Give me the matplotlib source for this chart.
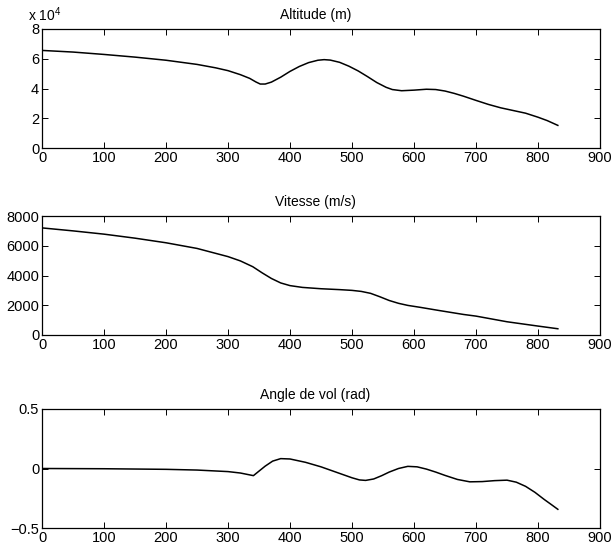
#!/usr/bin/env python3
"""Trajectoire de rentree : altitude, vitesse et angle de vol."""

import matplotlib
matplotlib.use('Agg')
import matplotlib.pyplot as plt

plt.rcParams['font.family'] = ['Liberation Sans', 'DejaVu Sans']
plt.rcParams['mathtext.fontset'] = 'custom'
plt.rcParams['mathtext.rm'] = 'Liberation Sans'
plt.rcParams['font.size'] = 10.5

# temps (s) et altitude (m)
t_alt = [0, 50, 100, 150, 200, 250, 280, 300, 320, 335, 345, 352, 360, 370,
         385, 400, 415, 430, 445, 455, 465, 480, 495, 510, 525, 540, 555,
         565, 580, 600, 620, 635, 650, 665, 680, 700, 720, 740, 760, 780,
         800, 815, 832]
altitude = [65600, 64500, 62900, 61100, 59000, 56200, 53900, 52000, 49300,
            46800, 44400, 43000, 43000, 44300, 47600, 51500, 54800, 57400,
            59000, 59400, 59100, 57600, 55000, 51800, 48000, 44000, 40800,
            39300, 38500, 38900, 39500, 39300, 38300, 36700, 34800, 32000,
            29300, 27000, 25200, 23400, 20700, 18400, 15200]

# temps (s) et vitesse (m/s)
t_vit = [0, 50, 100, 150, 200, 250, 300, 320, 340, 355, 370, 385, 400, 420,
         450, 480, 500, 515, 530, 545, 560, 575, 590, 610, 640, 680, 700,
         750, 800, 832]
vitesse = [7200, 7000, 6780, 6510, 6200, 5820, 5270, 4980, 4590, 4180,
           3800, 3500, 3320, 3200, 3110, 3050, 3000, 2930, 2800, 2570,
           2320, 2130, 1990, 1860, 1650, 1380, 1270, 890, 600, 420]

# temps (s) et angle de vol (rad)
t_ang = [0, 100, 200, 250, 300, 320, 341, 350, 360, 372, 385, 400, 425,
         450, 475, 500, 512, 522, 535, 548, 560, 575, 590, 605, 620, 635,
         650, 670, 690, 710, 730, 750, 765, 780, 795, 810, 822, 832]
angle = [0.0, -0.002, -0.007, -0.013, -0.026, -0.038, -0.060, -0.022,
         0.020, 0.062, 0.083, 0.080, 0.052, 0.014, -0.032, -0.078, -0.096,
         -0.100, -0.088, -0.060, -0.030, 0.000, 0.018, 0.014, -0.005,
         -0.030, -0.058, -0.092, -0.112, -0.110, -0.102, -0.098, -0.115,
         -0.150, -0.200, -0.260, -0.305, -0.343]

W, H = 612, 548
left, width, height = 42 / W, 558 / W, 119 / H
panels = [
    (t_alt, [a / 1e4 for a in altitude], 'Altitude (m)', (0, 8),
     [0, 2, 4, 6, 8], ['0', '2', '4', '6', '8'], 29),
    (t_vit, vitesse, 'Vitesse (m/s)', (0, 8000),
     [0, 2000, 4000, 6000, 8000], ['0', '2000', '4000', '6000', '8000'], 216),
    (t_ang, angle, 'Angle de vol (rad)', (-0.5, 0.5),
     [-0.5, 0, 0.5], ['\u22120.5', '0', '0.5'], 409),
]

fig = plt.figure(figsize=(W / 100, H / 100), dpi=100)
axes = []
for x, y, title, ylim, yt, ytl, top in panels:
    ax = fig.add_axes([left, 1 - (top + 119) / H, width, height])
    ax.plot(x, y, color='black', linewidth=1.1)
    ax.set_xlim(0, 900)
    ax.set_ylim(*ylim)
    ax.set_xticks(range(0, 901, 100))
    ax.set_yticks(yt)
    ax.set_yticklabels(ytl)
    ax.tick_params(direction='in', length=4, width=0.7, pad=2,
                   top=True, right=True, labelsize=10.5)
    for s in ax.spines.values():
        s.set_linewidth(0.9)
    ax.text(0.49, 1.055, title, transform=ax.transAxes,
            ha='center', va='bottom', fontsize=10)
    axes.append(ax)

axes[0].text(-0.025, 1.04, r'x 10$^{4}$', transform=axes[0].transAxes,
             ha='left', va='bottom', fontsize=10)

fig.savefig('out.png', dpi=100)
